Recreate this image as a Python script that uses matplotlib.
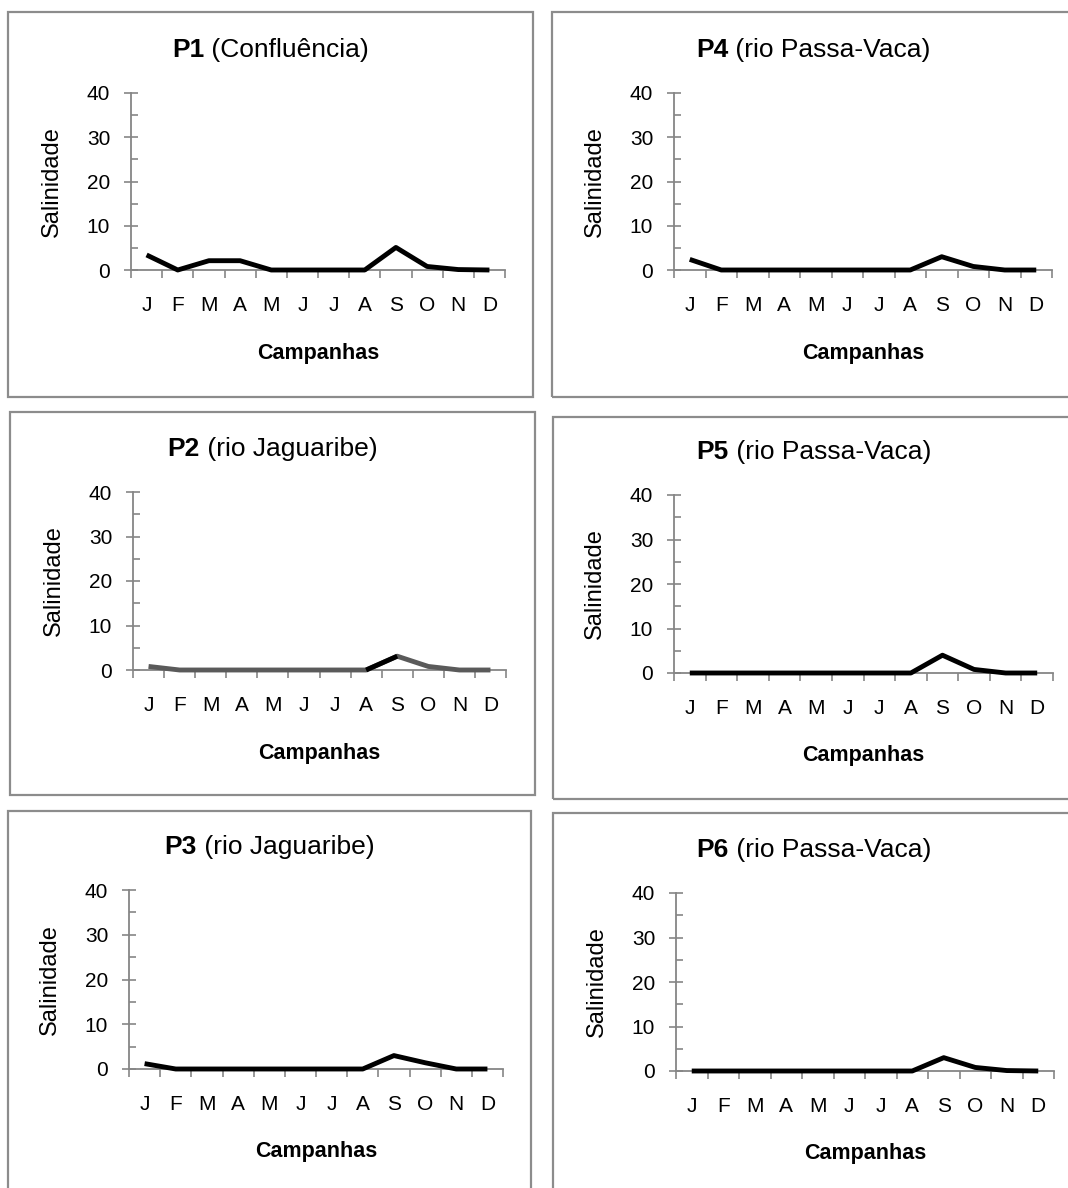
import matplotlib
matplotlib.use("Agg")
import matplotlib.pyplot as plt
from matplotlib.patches import Rectangle
from matplotlib.ticker import FixedLocator, MultipleLocator

plt.rcParams["font.family"] = ["Liberation Sans", "DejaVu Sans"]

months = ["J", "F", "M", "A", "M", "J", "J", "A", "S", "O", "N", "D"]

p1 = [3.4, 0.0, 2.1, 2.1, 0.0, 0.0, 0.0, 0.0, 5.1, 0.8, 0.1, 0.0]
p2 = [0.8, 0.0, 0.0, 0.0, 0.0, 0.0, 0.0, 0.0, 3.1, 0.8, 0.0, 0.0]
p3 = [1.2, 0.0, 0.0, 0.0, 0.0, 0.0, 0.0, 0.0, 3.0, 1.4, 0.0, 0.0]
p4 = [2.4, 0.0, 0.0, 0.0, 0.0, 0.0, 0.0, 0.0, 3.0, 0.8, 0.0, 0.0]
p5 = [0.0, 0.0, 0.0, 0.0, 0.0, 0.0, 0.0, 0.0, 4.0, 0.8, 0.0, 0.0]
p6 = [0.0, 0.0, 0.0, 0.0, 0.0, 0.0, 0.0, 0.0, 3.0, 0.8, 0.1, 0.0]

titles_bold = ["P1", "P4", "P2", "P5", "P3", "P6"]
titles_rest = [" (Confluência)", " (rio Passa-Vaca)", " (rio Jaguaribe)",
               " (rio Passa-Vaca)", " (rio Jaguaribe)", " (rio Passa-Vaca)"]
series = [p1, p4, p2, p5, p3, p6]
y_label = "Salinidade"
x_label = "Campanhas"

W, H = 1068, 1188
fig = plt.figure(figsize=(W / 100, H / 100), dpi=100)
fig.patch.set_facecolor("white")

# (box x0, y0, x1, y1), (axes x0, y_top, x1, y_zero) in pixels from top-left
layout = [
    ((8, 12, 533, 397), (131, 93, 505, 270)),
    ((552, 12, 1075, 397), (674, 93, 1052, 270)),
    ((10, 412, 535, 795), (133, 492, 506, 670)),
    ((553, 417, 1075, 799), (674, 495, 1053, 673)),
    ((8, 811, 531, 1195), (129, 890, 503, 1069)),
    ((553, 813, 1075, 1195), (676, 893, 1054, 1071)),
]

AX_GRAY = "#868686"
BOX_GRAY = "#8c8c8c"
TICK_FS = 15
TITLE_FS = 19
XLAB_FS = 15.5
YLAB_FS = 17

renderer = fig.canvas.get_renderer()

for i, (box, axr) in enumerate(layout):
    bx0, by0, bx1, by1 = box
    fig.patches.append(Rectangle((bx0 / W, 1 - by1 / H), (bx1 - bx0) / W,
                                 (by1 - by0) / H, transform=fig.transFigure,
                                 fill=False, edgecolor=BOX_GRAY, lw=1.6,
                                 zorder=0))
    ax0, ay0, ax1, ay1 = axr
    ax = fig.add_axes([ax0 / W, 1 - ay1 / H, (ax1 - ax0) / W, (ay1 - ay0) / H])
    ax.set_facecolor("none")
    x = list(range(len(months)))
    y = series[i]
    if i == 2:
        ax.plot(x, y, color="#5a5a5a", lw=3.5, solid_capstyle="butt",
                solid_joinstyle="round", clip_on=False, zorder=3)
        ax.plot(x[7:9], y[7:9], color="black", lw=3.5, solid_capstyle="butt",
                clip_on=False, zorder=4)
    else:
        ax.plot(x, y, color="black", lw=3.5, solid_capstyle="butt",
                solid_joinstyle="round", clip_on=False, zorder=3)
    ax.set_xlim(-0.5, 11.5)
    ax.set_ylim(0, 40)
    for s in ("top", "right"):
        ax.spines[s].set_visible(False)
    for s in ("left", "bottom"):
        ax.spines[s].set_color(AX_GRAY)
        ax.spines[s].set_linewidth(1.3)
    ax.set_yticks([0, 10, 20, 30, 40])
    ax.yaxis.set_minor_locator(MultipleLocator(5))
    ax.tick_params(axis="y", which="major", direction="inout", length=10,
                   width=1.2, color=AX_GRAY, labelsize=TICK_FS, pad=10)
    ax.tick_params(axis="y", which="minor", direction="in", length=5,
                   width=1.2, color=AX_GRAY)
    ax.set_xticks(x)
    ax.set_xticklabels(months)
    ax.xaxis.set_minor_locator(FixedLocator([k - 0.5 for k in range(13)]))
    ax.tick_params(axis="x", which="major", length=0, labelsize=TICK_FS,
                   pad=19)
    ax.tick_params(axis="x", which="minor", direction="out", length=6,
                   width=1.2, color=AX_GRAY)

    cx_ax = (ax0 + ax1) / 2
    fig.text(cx_ax / W, 1 - (ay1 + 83) / H, x_label, fontsize=XLAB_FS,
             fontweight="bold", ha="center", va="center")
    fig.text((ax0 - 79) / W, 1 - (ay0 + ay1) / 2 / H, y_label,
             fontsize=YLAB_FS, rotation=90, ha="center", va="center")

    # two-part title centred on the box
    ty = 1 - (ay0 - 43) / H
    tb = fig.text(0, ty, titles_bold[i], fontsize=TITLE_FS, fontweight="bold",
                  ha="left", va="center")
    tr = fig.text(0, ty, titles_rest[i], fontsize=TITLE_FS, ha="left",
                  va="center")
    wb = tb.get_window_extent(renderer).width
    wr = tr.get_window_extent(renderer).width
    cx_box = (bx0 + min(bx1, W + 8)) / 2
    start = cx_box - (wb + wr) / 2
    tb.set_x(start / W)
    tr.set_x((start + wb) / W)

fig.savefig("out.png", dpi=100)
